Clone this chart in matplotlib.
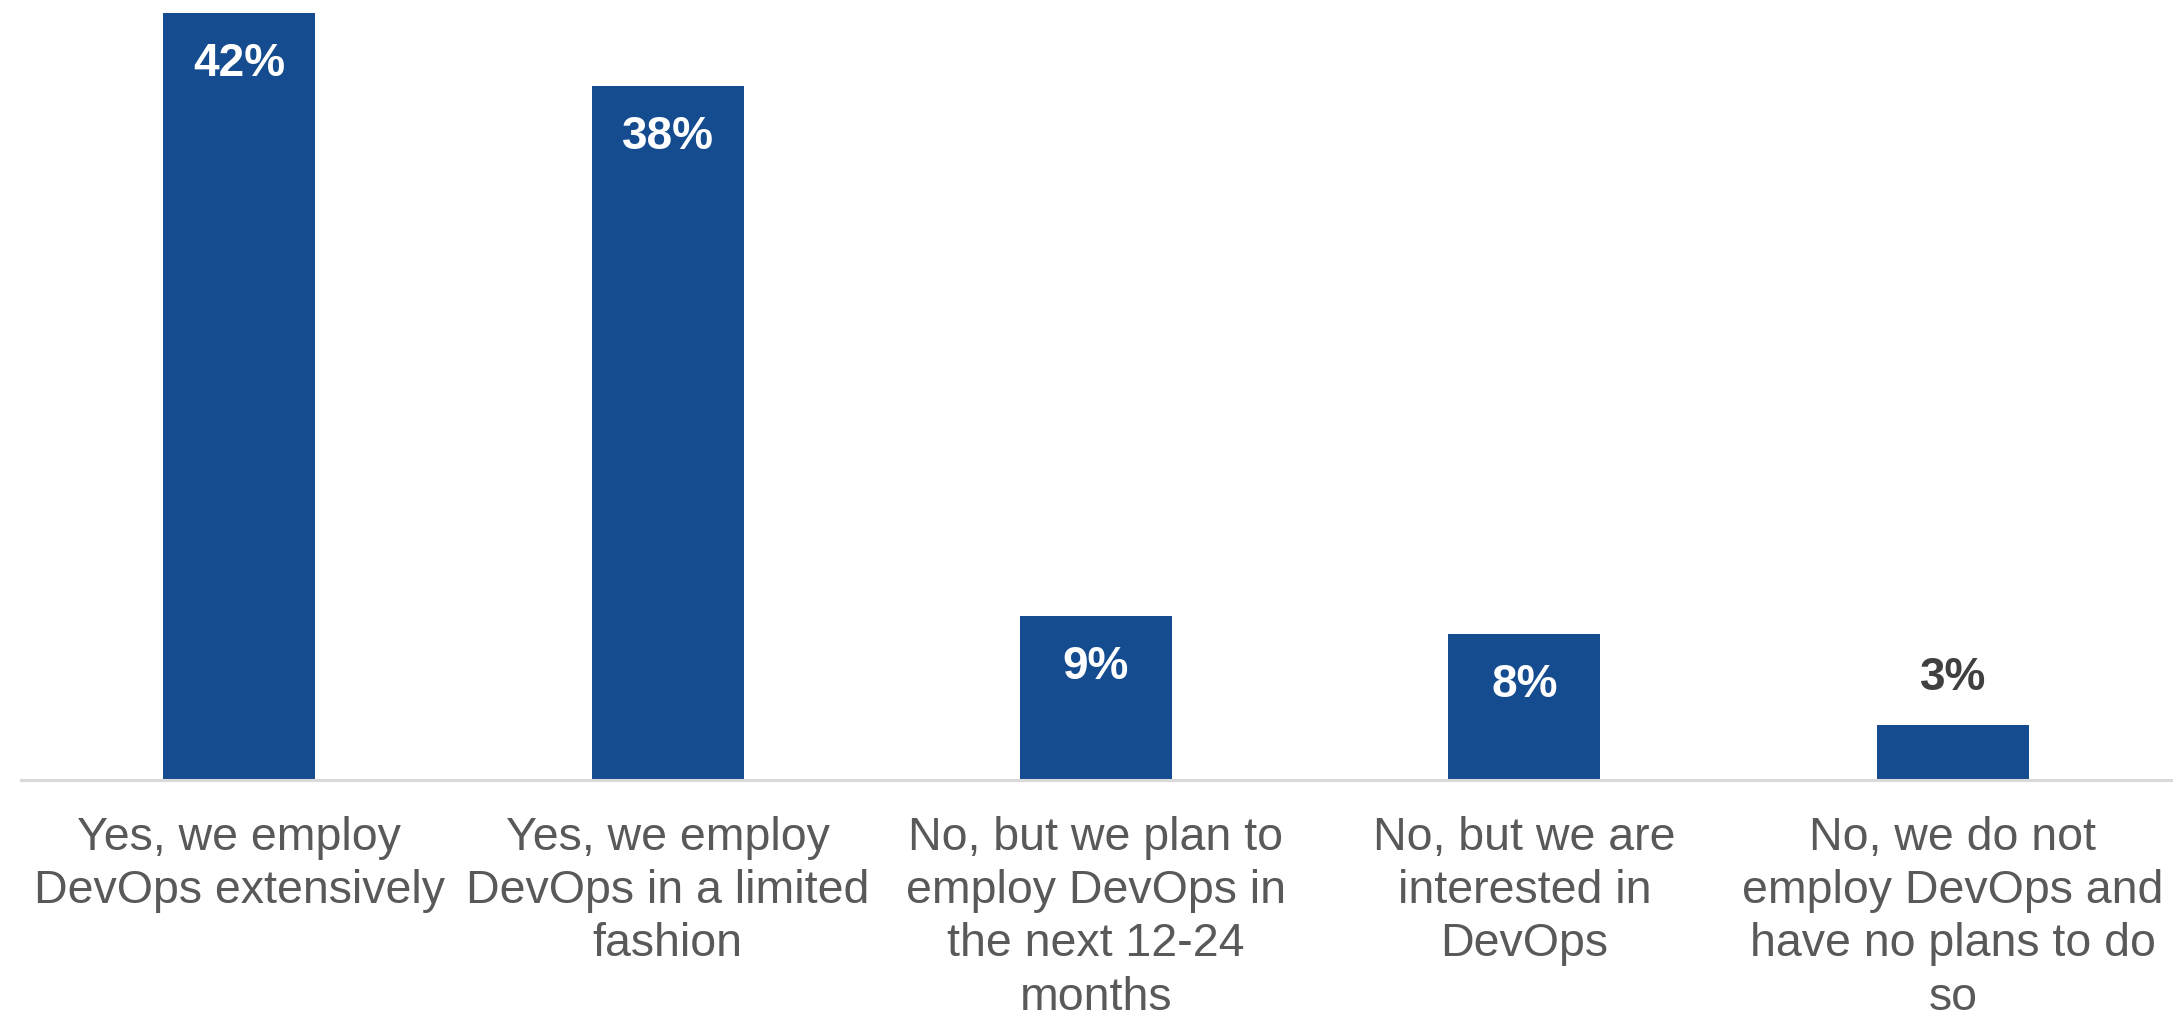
import matplotlib
matplotlib.use("Agg")
import matplotlib.pyplot as plt

categories = [
    "Yes, we employ\nDevOps extensively",
    "Yes, we employ\nDevOps in a limited\nfashion",
    "No, but we plan to\nemploy DevOps in\nthe next 12-24\nmonths",
    "No, but we are\ninterested in\nDevOps",
    "No, we do not\nemploy DevOps and\nhave no plans to do\nso",
]
values = [42, 38, 9, 8, 3]
labels = ["42%", "38%", "9%", "8%", "3%"]

plt.rcParams['font.family'] = ['Liberation Sans', 'DejaVu Sans']

W, H = 2173, 1017
fig = plt.figure(figsize=(W / 100, H / 100), dpi=100)
ax = fig.add_axes([25 / W, 1 - 780 / H, (2167 - 25) / W, (780 - 13) / H])

x = list(range(len(values)))
ax.bar(x, values, width=0.355, color='#154c8f', zorder=2)
ax.set_xlim(-0.5, len(values) - 0.5)
ax.set_ylim(0, 42)

for xi, v, lab in zip(x, values, labels):
    if v >= 5:
        ax.annotate(lab, (xi, v), xytext=(0, -37), textcoords='offset points',
                    ha='center', va='center', color='white', fontsize=33,
                    fontweight='bold')
    else:
        ax.annotate(lab, (xi, v), xytext=(0, 34), textcoords='offset points',
                    ha='center', va='center', color='#404040', fontsize=33,
                    fontweight='bold')

ax.set_xticks(x)
ax.set_xticklabels(categories, fontsize=33.5, color='#595959', linespacing=1.27)
ax.tick_params(axis='x', length=0, pad=26)
ax.set_yticks([])
for s in ['top', 'right', 'left']:
    ax.spines[s].set_visible(False)
ax.spines['bottom'].set_color('#d9d9d9')
ax.spines['bottom'].set_linewidth(2.2)
ax.spines['bottom'].set_bounds(-0.51, 4.52)

fig.savefig("out.png", dpi=100)
